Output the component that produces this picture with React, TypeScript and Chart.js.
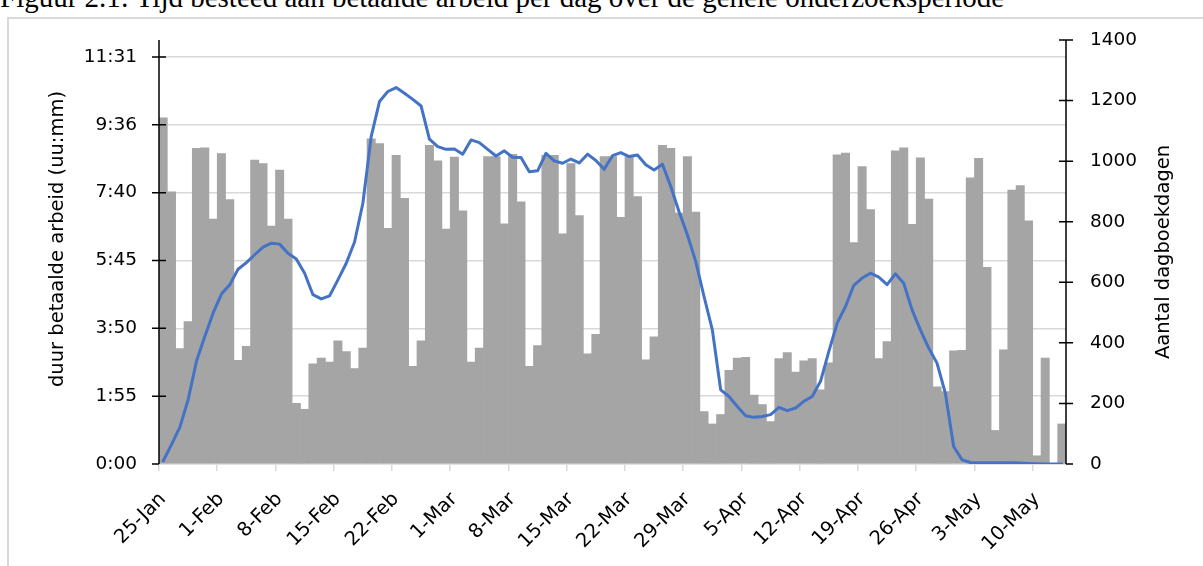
import React, { useEffect, useRef } from "react";
import { Chart, registerables } from "chart.js";

Chart.register(...registerables);

// ---- data ----
const MONTHS = ["Jan", "Feb", "Mar", "Apr", "May"];
const DAYS_IN_MONTH = [31, 28, 31, 30, 31];
const START_DAY = 25; // 25-Jan

// paid work duration per day, in minutes (left axis)
const workMinutes = [
  588, 462, 196, 242, 536, 537, 416, 527, 449, 176,
  200, 516, 510, 404, 499, 416, 103, 93, 170, 180,
  173, 209, 191, 162, 197, 552, 544, 400, 524, 451,
  166, 209, 541, 515, 399, 521, 430, 173, 197, 522,
  522, 408, 526, 445, 166, 201, 524, 524, 391, 510,
  422, 187, 220, 522, 522, 419, 522, 454, 177, 216,
  541, 536, 426, 522, 428, 89, 68, 84, 159, 180,
  181, 117, 101, 72, 179, 189, 156, 175, 179, 126,
  172, 525, 528, 376, 505, 432, 179, 208, 532, 537,
  407, 520, 450, 131, 123, 192, 193, 486, 519, 334,
  57, 194, 465, 473, 413, 14, 180, 0, 68,
];

// number of diary days (right axis)
const diaryDays = [
  10, 64, 121, 212, 339, 421, 498, 561, 592, 643,
  665, 691, 716, 729, 726, 696, 677, 630, 559, 545,
  555, 608, 663, 733, 861, 1081, 1197, 1230, 1243, 1224,
  1204, 1182, 1073, 1048, 1039, 1040, 1023, 1070, 1061, 1039,
  1017, 1034, 1013, 1012, 965, 968, 1026, 1001, 993, 1007,
  994, 1023, 1002, 973, 1018, 1028, 1015, 1020, 988, 971,
  990, 916, 833, 757, 669, 553, 443, 245, 223, 190,
  159, 154, 157, 163, 187, 176, 185, 207, 223, 273,
  372, 465, 520, 590, 614, 630, 617, 592, 628, 597,
  509, 443, 383, 333, 234, 58, 14, 5, 4, 4,
  4, 4, 4, 3, 2, 1, 0, 0, 0,
];

const leftTicks = [0, 115.2, 230.4, 345.6, 460.8, 576, 691.2];
const rightTicks = [0, 200, 400, 600, 800, 1000, 1200, 1400];
const weekTicks = [0, 7, 14, 21, 28, 35, 42, 49, 56, 63, 70, 77, 84, 91, 98, 105];

const TITLE = "Figuur 2.1: Tijd besteed aan betaalde arbeid per dag over de gehele onderzoeksperiode";
const LEFT_TITLE = "duur betaalde arbeid (uu:mm)";
const RIGHT_TITLE = "Aantal dagboekdagen";

function dayLabel(i: number): string {
  let m = 0;
  let d = START_DAY + i;
  while (d > DAYS_IN_MONTH[m]) {
    d -= DAYS_IN_MONTH[m];
    m++;
  }
  return `${d}-${MONTHS[m]}`;
}

function fmtMinutes(v: number): string {
  const h = Math.floor(v / 60 + 1e-9);
  const m = Math.floor(v - h * 60 + 1e-6);
  return `${h}:${String(m).padStart(2, "0")}`;
}

const FONT = "'DejaVu Sans', sans-serif";

const axisPlugin = {
  id: "crossAxes",
  afterDatasetsDraw(chart: any) {
    const { ctx, chartArea, scales } = chart;
    const y = scales.y;
    const y1 = scales.y1;
    ctx.save();
    ctx.strokeStyle = "#000";
    ctx.lineWidth = 1.5;
    const lx = chartArea.left;
    const rx = chartArea.right;
    ctx.beginPath();
    ctx.moveTo(lx, chartArea.top);
    ctx.lineTo(lx, chartArea.bottom);
    ctx.moveTo(rx, chartArea.top);
    ctx.lineTo(rx, chartArea.bottom);
    y.ticks.forEach((t: any) => {
      const py = y.getPixelForValue(t.value);
      ctx.moveTo(lx - 7, py);
      ctx.lineTo(t.value === 0 ? lx : lx + 7, py);
    });
    y1.ticks.forEach((t: any) => {
      const py = y1.getPixelForValue(t.value);
      ctx.moveTo(t.value === 0 ? rx : rx - 7, py);
      ctx.lineTo(rx + 7, py);
    });
    ctx.stroke();

    // axis titles, both reading bottom-to-top
    ctx.fillStyle = "#000";
    ctx.font = `19.5px ${FONT}`;
    ctx.textAlign = "center";
    ctx.textBaseline = "middle";
    ctx.save();
    ctx.translate(lx - 101.5, chartArea.top + 199);
    ctx.rotate(-Math.PI / 2);
    ctx.fillText(LEFT_TITLE, 0, 0);
    ctx.restore();
    ctx.save();
    ctx.translate(rx + 98, (chartArea.top + chartArea.bottom) / 2);
    ctx.rotate(-Math.PI / 2);
    ctx.fillText(RIGHT_TITLE, 0, 0);
    ctx.restore();
    ctx.restore();
  },
};

function ChartView() {
  const ref = useRef<HTMLCanvasElement | null>(null);
  useEffect(() => {
    if (!ref.current) return;
    const chart = new Chart(ref.current, {
      type: "bar",
      data: {
        datasets: [
          {
            type: "line",
            label: RIGHT_TITLE,
            data: diaryDays.map((v, i) => ({ x: i + 0.5, y: v })),
            yAxisID: "y1",
            borderColor: "#4472C4",
            borderWidth: 3,
            pointRadius: 0,
            tension: 0,
            borderJoinStyle: "round",
            borderCapStyle: "round",
            order: 0,
          } as any,
          {
            type: "bar",
            label: LEFT_TITLE,
            data: workMinutes.map((v, i) => ({ x: i + 0.5, y: v })),
            yAxisID: "y",
            backgroundColor: "#A5A5A5",
            barPercentage: 1,
            categoryPercentage: 1,
            order: 1,
          } as any,
        ],
      },
      options: {
        animation: false,
        responsive: false,
        maintainAspectRatio: false,
        layout: { padding: { top: 40, left: 0, right: 0, bottom: 0 } },
        plugins: { legend: { display: false }, tooltip: { enabled: false } },
        scales: {
          x: {
            type: "linear",
            offset: false,
            min: 0,
            max: workMinutes.length,
            afterBuildTicks: (s: any) => {
              s.ticks = weekTicks.map((v) => ({ value: v }));
            },
            afterFit: (s: any) => {
              s.height = 102;
            },
            grid: {
              offset: false,
              drawOnChartArea: false,
              drawTicks: true,
              tickLength: 7,
              color: "#D9D9D9",
              lineWidth: 1.5,
            },
            border: { display: true, color: "#D9D9D9", width: 1.5 },
            ticks: {
              autoSkip: false,
              maxRotation: 45,
              minRotation: 45,
              padding: 17,
              labelOffset: 4,
              color: "#000",
              font: { family: FONT, size: 19.5 },
              callback: (v: any) => dayLabel(Number(v)),
            },
          },
          y: {
            position: "left",
            min: 0,
            max: 720,
            afterBuildTicks: (s: any) => {
              s.ticks = leftTicks.map((v) => ({ value: v }));
            },
            afterFit: (s: any) => {
              s.width = 159;
            },
            grid: { color: "#D9D9D9", lineWidth: 1.5, drawTicks: false },
            border: { display: false },
            ticks: {
              padding: 22,
              color: "#000",
              font: { family: FONT, size: 18.5 },
              callback: (v: any) => fmtMinutes(Number(v)),
            },
          },
          y1: {
            position: "right",
            min: 0,
            max: 1400,
            afterBuildTicks: (s: any) => {
              s.ticks = rightTicks.map((v) => ({ value: v }));
            },
            afterFit: (s: any) => {
              s.width = 137;
            },
            grid: { drawOnChartArea: false, drawTicks: false },
            border: { display: false },
            ticks: {
              padding: 24,
              color: "#000",
              font: { family: FONT, size: 18.5 },
              callback: (v: any) => String(v),
            },
          },
        },
      } as any,
      plugins: [axisPlugin],
    });
    return () => chart.destroy();
  }, []);
  return (
    <canvas
      ref={ref}
      width={1203}
      height={566}
      style={{ position: "absolute", left: 0, top: 0, width: 1203, height: 566 }}
    />
  );
}

export default function App() {
  return (
    <div
      style={{
        position: "fixed",
        left: 0,
        top: 0,
        width: 1203,
        height: 566,
        overflow: "hidden",
        background: "#fff",
      }}
    >
      <div
        style={{
          position: "absolute",
          left: 0,
          top: -19,
          fontFamily: "'Liberation Serif', 'Times New Roman', serif",
          fontSize: 29,
          lineHeight: "normal",
          whiteSpace: "nowrap",
          color: "#000",
        }}
      >
        {TITLE}
      </div>
      <div
        style={{
          position: "absolute",
          left: 7,
          top: 17,
          width: 1400,
          height: 800,
          borderLeft: "2px solid #D9D9D9",
          borderTop: "2px solid #D9D9D9",
        }}
      />
      <ChartView />
    </div>
  );
}
